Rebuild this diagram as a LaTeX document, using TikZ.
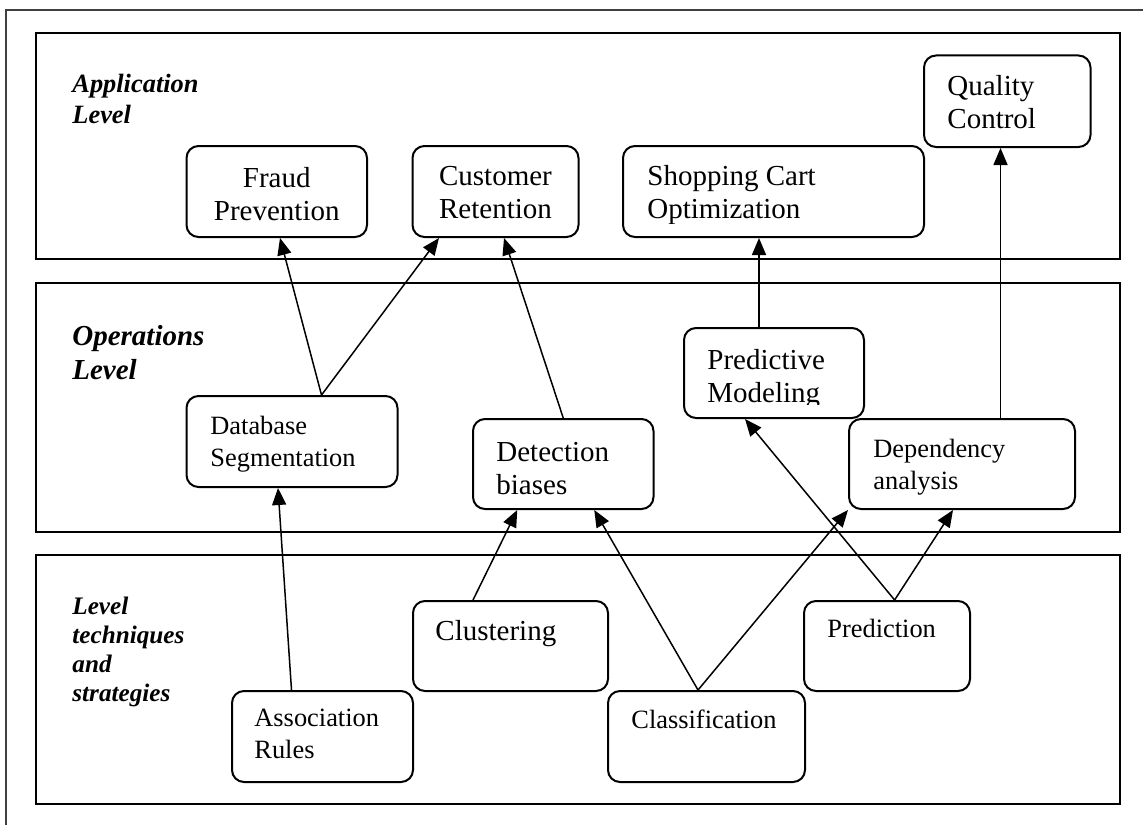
\documentclass[tikz,border=0pt]{standalone}
\usepackage{fontspec}
\setmainfont{Liberation Serif}
\usetikzlibrary{arrows.meta,calc}

\tikzset{
  panel/.style={draw, line width=1pt},
  box/.style 2 args={draw, line width=1pt, rounded corners=6pt, inner sep=0pt,
    minimum width=#1*0.5pt, minimum height=#2*0.5pt},
  bigtxt/.style={inner sep=0pt, font=\fontsize{14.5}{16.5}\selectfont},
  smalltxt/.style={inner sep=0pt, font=\fontsize{13.2}{16}\selectfont},
  lvl/.style 2 args={inner sep=0pt, anchor=north west, align=left,
    font=\fontsize{#1}{#2}\selectfont\bfseries\itshape},
  arr/.style={line width=0.75pt, -{Triangle[length=8.5pt,width=7pt]}}
}

\begin{document}
\begin{tikzpicture}[x=0.5pt, y=-0.5pt]
  \useasboundingbox (0,0) rectangle (1143,824);

  % outer frame and the three levels
  \draw[line width=1.2pt, black!75] (6,10) rectangle (1170,850);
  \draw[panel] (36,33) rectangle (1120,259);
  \draw[panel] (36,283) rectangle (1120,532);
  \draw[panel] (36,555) rectangle (1120,804);

  \node[lvl={13.2}{15.5}] (applvl) at (72,74) {Application\\Level};
  \node[lvl={14.5}{17}] (opslvl) at (72,325) {Operations\\Level};
  \node[lvl={12.6}{14.5}] (techlvl) at (72,597) {Level\\techniques\\and\\strategies};

  % application level
  \node[box={180.5}{91}] (fraud) at (276.75,191.5) {};
  \node[bigtxt, anchor=north, align=center] (fraud-t) at ($(fraud.north)+(0,22)$) {Fraud\\Prevention};
  \node[box={166}{91}] (retention) at (495.5,191.5) {};
  \node[bigtxt, anchor=north, align=center] (retention-t) at ($(retention.north)+(0,21)$) {Customer\\Retention};
  \node[box={301}{91}] (shopping) at (773.5,191.5) {};
  \begin{scope}
    \clip (shopping.north west) rectangle ($(shopping.south east)+(0,-15)$);
    \node[bigtxt, anchor=north west, align=left] (shopping-t) at ($(shopping.north west)+(25,20)$) {Shopping Cart\\Optimization};
  \end{scope}
  \node[box={166.5}{91.5}] (quality) at (1007.25,101.25) {};
  \node[bigtxt, anchor=north west, align=left] (quality-t) at ($(quality.north west)+(24,20)$) {Quality\\Control};

  % operations level
  \node[box={180}{90}] (predictive) at (774,373) {};
  \begin{scope}
    \clip (predictive.north west) rectangle ($(predictive.south east)+(0,-15)$);
    \node[bigtxt, anchor=north west, align=left] (predictive-t) at ($(predictive.north west)+(24,22)$) {Predictive\\Modeling};
  \end{scope}
  \node[box={211}{91}] (database) at (292,441.5) {};
  \node[smalltxt, anchor=north west, align=left] (database-t) at ($(database.north west)+(24.5,21)$) {Database\\Segmentation};
  \node[box={180.5}{90}] (detection) at (563.25,464) {};
  \node[bigtxt, anchor=north west, align=left] (detection-t) at ($(detection.north west)+(24,24)$) {Detection\\biases};
  \node[box={226}{90}] (dependency) at (962,464) {};
  \node[smalltxt, anchor=north west, align=left] (dependency-t) at ($(dependency.north west)+(25,21)$) {Dependency\\analysis};

  % techniques level
  \node[box={195}{90}] (clustering) at (510.5,646) {};
  \node[bigtxt, anchor=north west] (clustering-t) at ($(clustering.north west)+(23,20)$) {Clustering};
  \node[box={166}{90}] (prediction) at (887,646) {};
  \node[smalltxt, anchor=north west] (prediction-t) at ($(prediction.north west)+(24,19)$) {Prediction};
  \node[box={181}{91}] (association) at (322.5,736.5) {};
  \node[smalltxt, anchor=north west, align=left] (association-t) at ($(association.north west)+(23,19)$) {Association\\Rules};
  \node[box={197}{91}] (classification) at (706.5,736.5) {};
  \node[smalltxt, anchor=north west] (classification-t) at ($(classification.north west)+(24,19)$) {Classification};

  % connectors
  \draw[arr] ($(database.north west)+(136,0)$) -- ($(fraud.south west)+(94.5,0)$);
  \draw[arr] ($(database.north west)+(136,0)$) -- ($(retention.south west)+(27.5,0)$);
  \draw[arr] (detection.north) -- ($(retention.south west)+(92.5,0)$);
  \draw[arr] ($(predictive.north)+(-15,0)$) -- ($(shopping.south)+(-14.5,0)$);
  \draw[arr] ($(dependency.north)+(38.5,0)$) -- ($(quality.south)+(-6.75,0)$);
  \draw[arr] ($(association.north)+(-31,0)$) -- ($(database.south)+(-14,0)$);
  \draw[arr] ($(clustering.north)+(-37.5,0)$) -- ($(detection.south)+(-46,0)$);
  \draw[arr] ($(classification.north)+(-8.5,0)$) -- ($(detection.south)+(31,0)$);
  \draw[arr] ($(classification.north)+(-8.5,0)$) -- (dependency.south west);
  \draw[arr] ($(prediction.north)+(7.6,0)$) -- ($(predictive.south)+(-29,0)$);
  \draw[arr] ($(prediction.north)+(7.6,0)$) -- ($(dependency.south)+(-9,0)$);
\end{tikzpicture}
\end{document}
